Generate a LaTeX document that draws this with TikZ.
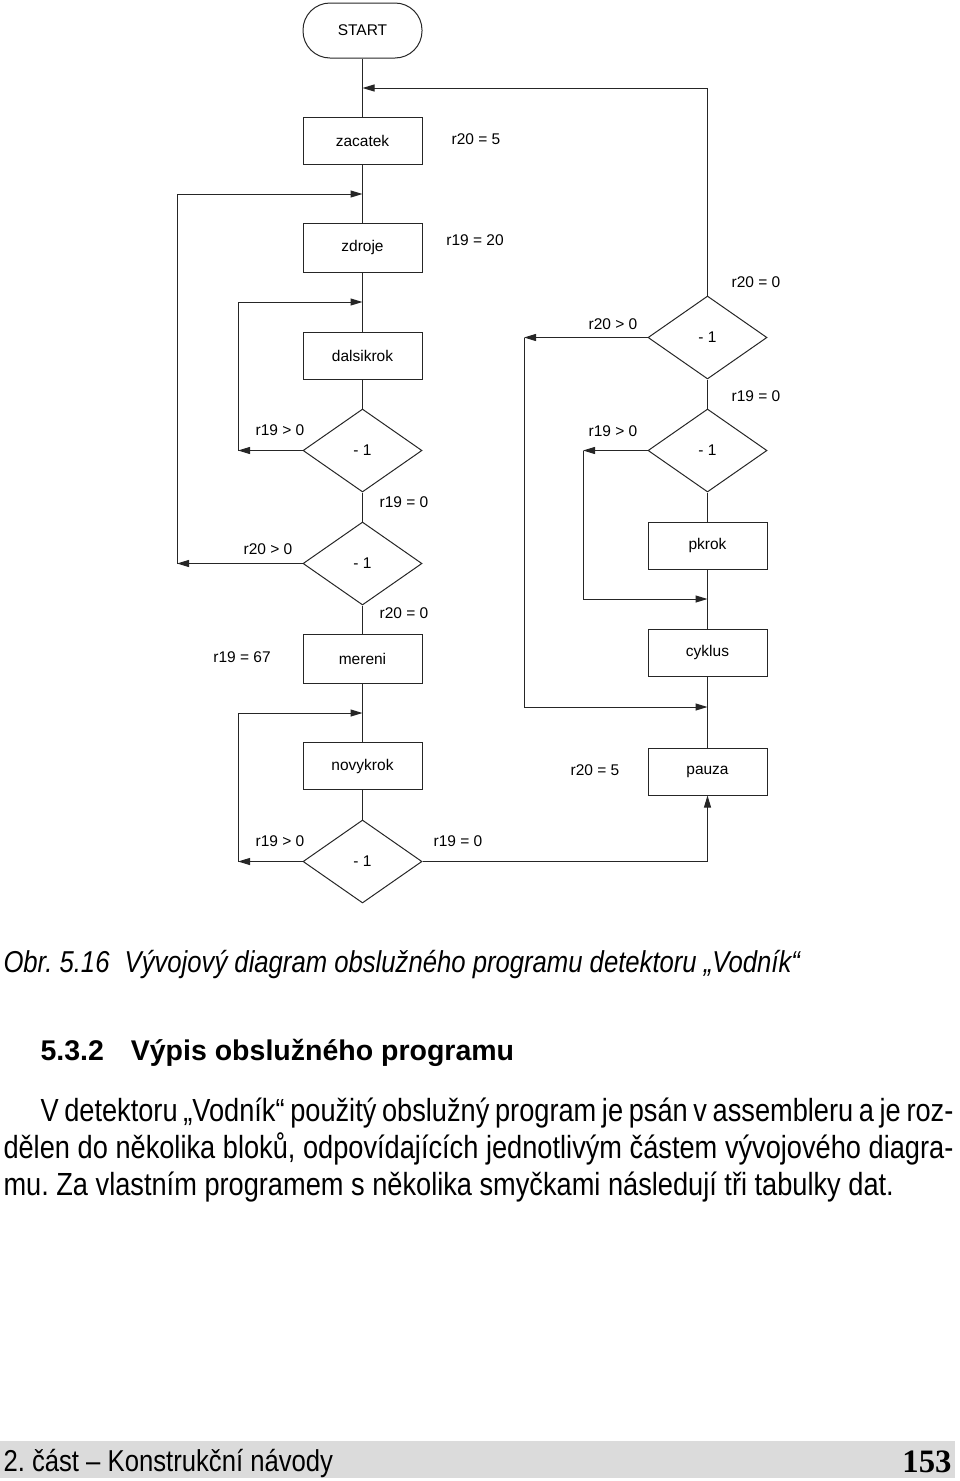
\documentclass[tikz,border=0pt]{standalone}
\usepackage{fontspec}
\setmainfont{Liberation Sans}
\newfontfamily\narrowfont[FakeStretch=0.85]{Liberation Sans}
\newfontfamily\numfont{Liberation Serif}
\usetikzlibrary{shapes.geometric,arrows.meta}
\frenchspacing
\begin{document}
\begin{tikzpicture}[x=1pt,y=-1pt,
  line width=1pt, draw=black!85,
  every node/.style={font=\fontsize{15.5}{18}\selectfont},
  box/.style={draw=black!85, minimum width=119pt, minimum height=47pt, inner sep=0pt},
  dec/.style={draw=black!85, diamond, minimum width=119pt, minimum height=83pt, inner sep=0pt},
  term/.style={draw=black!85, rounded corners=27pt, minimum width=119pt, minimum height=55pt, inner sep=0pt},
  arr/.style={-{Triangle[length=12pt,width=7pt]}},
  lbl/.style={inner sep=0pt},
  txt/.style={inner sep=0pt, anchor=base west}
]
\useasboundingbox (0,0) rectangle (960,1481);

% left column
\node[term] (start) at (362.5,30.5) {START};
\node[box] (zacatek) at (362.5,140.5) {zacatek};
\node[box, minimum height=49pt] (zdroje) at (362.5,247.5) {zdroje};
\node[box] (dalsikrok) at (362.5,355.5) {dalsikrok};
\node[dec] (d1) at (362.5,450.5) {- 1};
\node[dec] (d2) at (362.5,563.5) {- 1};
\node[box, minimum height=49pt] (mereni) at (362.5,658.5) {mereni};
\node[box] (novykrok) at (362.5,766) {novykrok};
\node[dec] (d3) at (362.5,861.5) {- 1};

% right column
\node[dec] (dA) at (707.5,337.5) {- 1};
\node[dec] (dB) at (707.5,450.5) {- 1};
\node[box] (pkrok) at (707.5,545.5) {pkrok};
\node[box] (cyklus) at (707.5,652.5) {cyklus};
\node[box] (pauza) at (707.5,771.5) {pauza};

% junction points
\coordinate (j0) at (362.5,88);
\coordinate (j1) at (362.5,194);
\coordinate (j2) at (362.5,302);
\coordinate (j3) at (362.5,713);
\coordinate (j4) at (707.5,599);
\coordinate (j5) at (707.5,707);
\coordinate (c1) at (238,450.5);
\coordinate (c2) at (177,563.5);
\coordinate (c3) at (238,861.5);
\coordinate (c4) at (524,337.5);
\coordinate (c5) at (583,450.5);

% main flow lines
\draw (start) -- (zacatek);
\draw (zacatek) -- (zdroje);
\draw (zdroje) -- (dalsikrok);
\draw (dalsikrok) -- (d1);
\draw (d1) -- (d2);
\draw (d2) -- (mereni);
\draw (mereni) -- (novykrok);
\draw (novykrok) -- (d3);
\draw (pauza) -- (cyklus);
\draw (cyklus) -- (pkrok);
\draw (pkrok) -- (dB);
\draw (dB) -- (dA);

% loops
\draw[arr] (dA.north) |- (j0);
\draw[arr] (d1.west) -- (c1);
\draw[arr] (c1) |- (j2);
\draw[arr] (d2.west) -- (c2);
\draw[arr] (c2) |- (j1);
\draw[arr] (d3.west) -- (c3);
\draw[arr] (c3) |- (j3);
\draw[arr] (dA.west) -- (c4);
\draw[arr] (c4) |- (j5);
\draw[arr] (dB.west) -- (c5);
\draw[arr] (c5) |- (j4);
\draw[arr] (d3.east) -| (pauza.south);

% labels
\node[lbl] (l1) at (476,139) {r20 = 5};
\node[lbl] (l2) at (475,240) {r19 = 20};
\node[lbl] (l3) at (756,282) {r20 = 0};
\node[lbl] (l4) at (613,324) {r20 > 0};
\node[lbl] (l5) at (756,396) {r19 = 0};
\node[lbl] (l6) at (613,431) {r19 > 0};
\node[lbl] (l7) at (280,430) {r19 > 0};
\node[lbl] (l8) at (404,502) {r19 = 0};
\node[lbl] (l9) at (268,549) {r20 > 0};
\node[lbl] (l10) at (404,613) {r20 = 0};
\node[lbl] (l11) at (242,657) {r19 = 67};
\node[lbl] (l12) at (595,770) {r20 = 5};
\node[lbl] (l13) at (280,841) {r19 > 0};
\node[lbl] (l14) at (458,841) {r19 = 0};

% caption and text
\node[txt] (cap) at (3,972) {\narrowfont\itshape\fontsize{30.2}{34}\selectfont Obr. 5.16\hspace{0.5em}Vývojový diagram obslužného programu detektoru „Vodník“};
\node[txt] (head) at (40,1060) {\bfseries\fontsize{28.5}{32}\selectfont 5.3.2\hspace{27pt}Výpis obslužného programu};
\node[txt] (p1) at (40,1121) {\narrowfont\fontsize{32}{36}\selectfont\makebox[913pt][s]{V detektoru „Vodník“ použitý obslužný program je psán v assembleru a je roz-}};
\node[txt] (p2) at (3,1158) {\narrowfont\fontsize{32}{36}\selectfont\makebox[950pt][s]{dělen do několika bloků, odpovídajících jednotlivým částem vývojového diagra-}};
\node[txt] (p3) at (3,1195) {\narrowfont\fontsize{32}{36}\selectfont mu. Za vlastním programem s několika smyčkami následují tři tabulky dat.};

% footer
\fill[black!14] (0,1441) rectangle (955,1478);
\node[txt] (foot) at (3,1471) {\narrowfont\fontsize{30.2}{34}\selectfont 2. část – Konstrukční návody};
\node[inner sep=0pt, anchor=base east] (page) at (952,1472) {\numfont\bfseries\fontsize{32.7}{36}\selectfont 153};
\end{tikzpicture}
\end{document}
